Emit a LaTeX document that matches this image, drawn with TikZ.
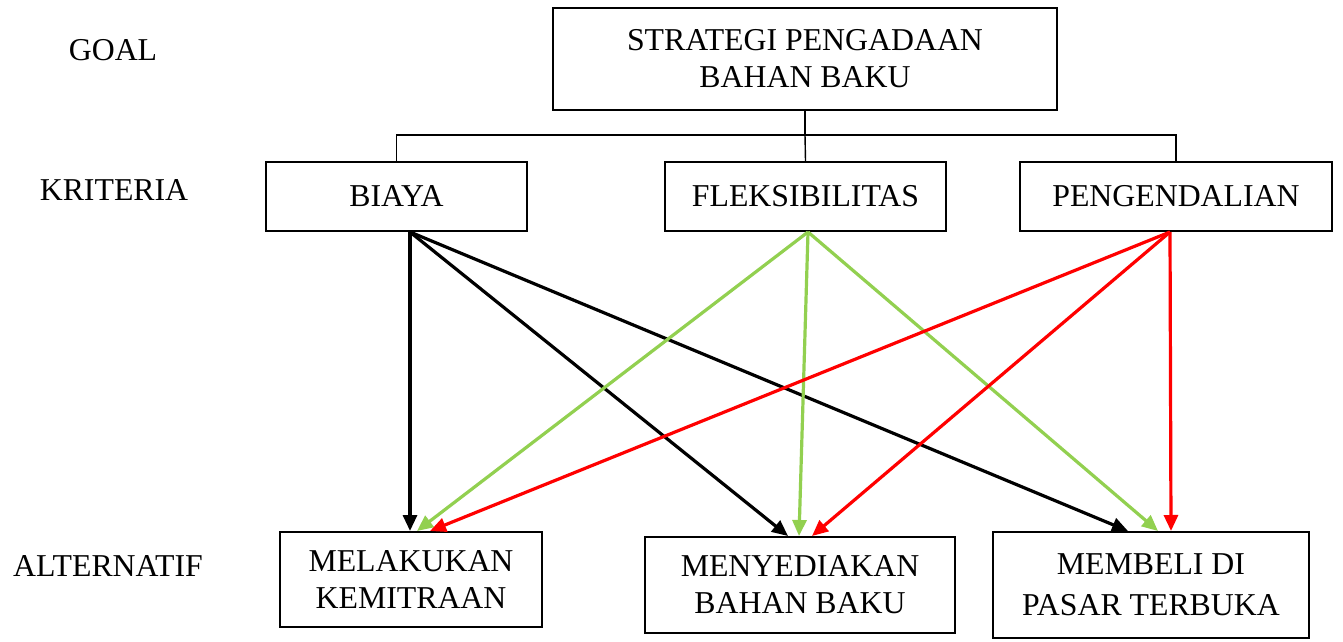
\documentclass[tikz,border=0pt]{standalone}
\usepackage{fontspec}
\setmainfont{Liberation Serif}
\usetikzlibrary{arrows.meta}
\definecolor{agreen}{RGB}{146,208,80}
\definecolor{ared}{RGB}{255,0,0}
\begin{document}
\begin{tikzpicture}[x=0.5pt,y=-0.5pt,
  box/.style={draw,line width=1pt,inner sep=0pt,align=center,font=\fontsize{15.9}{18.5}\selectfont},
  lbl/.style={inner sep=0pt,font=\fontsize{15.9}{18.5}\selectfont},
  tree/.style={line width=0.7pt},
  arr/.style={line width=1.6pt,-{Triangle[length=8pt,width=7pt]}}]
\useasboundingbox (0,0) rectangle (1343,642);
\fill[white] (0,0) rectangle (1343,642);
\node[lbl] (lg) at (113,50) {GOAL};
\node[lbl] (lk) at (114,190) {KRITERIA};
\node[lbl] (la) at (108,566) {ALTERNATIF};
\node[box,minimum width=252pt,minimum height=51pt] (goal) at (805,59) {STRATEGI PENGADAAN\\BAHAN BAKU};
\node[box,minimum width=130.5pt,minimum height=34.5pt] (k1) at (396.5,196.5) {BIAYA};
\node[box,minimum width=140.5pt,minimum height=34.5pt] (k2) at (805.5,196.5) {FLEKSIBILITAS};
\node[box,minimum width=156pt,minimum height=34.5pt] (k3) at (1176,196.5) {PENGENDALIAN};
\node[box,minimum width=131pt,minimum height=47.5pt] (m1) at (411,579.5) {MELAKUKAN\\KEMITRAAN};
\node[box,minimum width=155pt,minimum height=48pt] (m2) at (800,585) {MENYEDIAKAN\\BAHAN BAKU};
\node[box,minimum width=158pt,minimum height=53pt] (m3) at (1151,585) {MEMBELI DI\\[2pt]PASAR TERBUKA};
\coordinate (j) at (805,135);
\draw[tree] (goal.south) -- (j);
\draw[tree] (k1.north) |- (j) -| (k3.north);
\draw[tree] (j) -- (k2.north);
% black
\draw[arr,black] ([xshift=6.75pt]k1.south) -- ([xshift=-0.5pt]m1.north);
\draw[arr,black] ([xshift=6.75pt]k1.south) -- ([xshift=-6pt]m2.north);
\draw[arr,black] ([xshift=6.75pt]k1.south) -- ([xshift=-11.5pt]m3.north);
% green
\draw[arr,agreen] ([xshift=1.25pt]k2.south) -- ([xshift=3pt]m1.north);
\draw[arr,agreen] ([xshift=1.25pt]k2.south) -- ([xshift=-0.5pt]m2.north);
\draw[arr,agreen] ([xshift=1.25pt]k2.south) -- ([xshift=3.5pt]m3.north);
% red
\draw[arr,ared] ([xshift=-3pt]k3.south) -- ([xshift=9.5pt]m1.north);
\draw[arr,ared] ([xshift=-3pt]k3.south) -- ([xshift=6pt]m2.north);
\draw[arr,ared] ([xshift=-3pt]k3.south) -- ([xshift=10pt]m3.north);
\end{tikzpicture}
\end{document}
